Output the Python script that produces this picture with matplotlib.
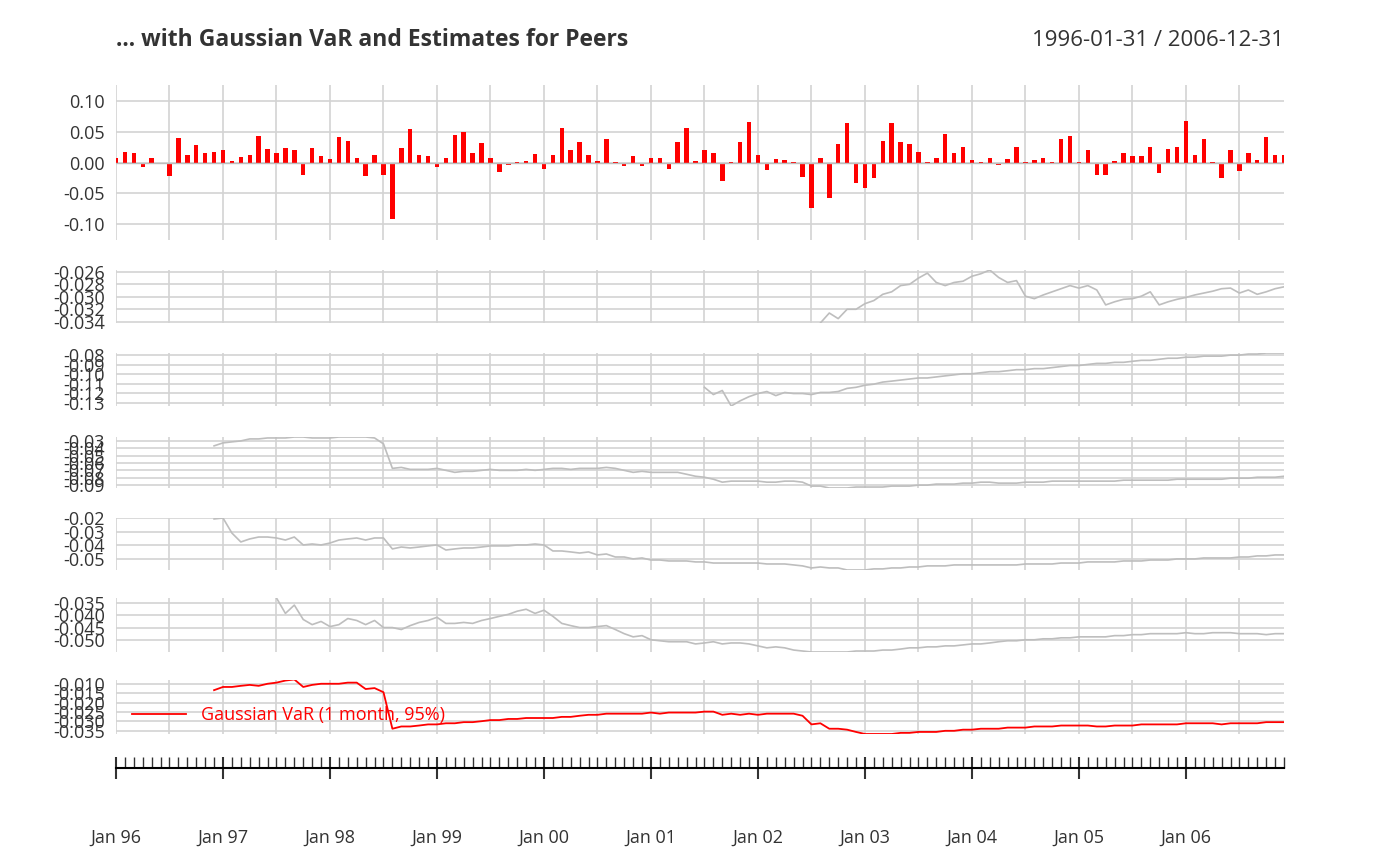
import matplotlib
matplotlib.use("Agg")
import matplotlib.pyplot as plt
import numpy as np

plt.rcParams['font.family'] = ['Open Sans', 'DejaVu Sans']

# monthly returns Jan 1996 .. Dec 2006, by year
returns = [
    0.007, 0.018, 0.015, -0.008, 0.007, -0.003, -0.022, 0.040, 0.013, 0.028, 0.015, 0.017,
    0.020, 0.002, 0.009, 0.012, 0.043, 0.022, 0.015, 0.023, 0.021, -0.020, 0.024, 0.011,
    0.005, 0.042, 0.036, 0.008, -0.022, 0.012, -0.020, -0.093, 0.024, 0.055, 0.012, 0.010,
    -0.008, 0.008, 0.045, 0.050, 0.016, 0.032, 0.008, -0.016, -0.004, 0.001, 0.003, 0.014,
    -0.010, 0.012, 0.057, 0.020, 0.033, 0.012, 0.003, 0.038, 0.001, -0.006, 0.010, -0.006,
    0.007, 0.007, -0.010, 0.034, 0.057, 0.002, 0.020, 0.016, -0.030, 0.001, 0.033, 0.067,
    0.013, -0.012, 0.005, 0.004, 0.001, -0.024, -0.075, 0.007, -0.058, 0.030, 0.065, -0.033,
    -0.042, -0.025, 0.035, 0.065, 0.033, 0.030, 0.017, 0.001, 0.008, 0.047, 0.016, 0.026,
    0.004, 0.001, 0.008, -0.004, 0.006, 0.025, 0.001, 0.004, 0.008, 0.001, 0.039, 0.043,
    0.001, 0.021, -0.020, -0.020, 0.003, 0.015, 0.010, 0.011, 0.025, -0.018, 0.022, 0.025,
    0.068, 0.013, 0.039, 0.001, -0.026, 0.021, -0.014, 0.015, 0.004, 0.042, 0.012, 0.012,
]

# peer VaR estimates, each ending Dec 2006
peer1 = [-0.0342, -0.0326, -0.0335, -0.0320, -0.0320, -0.0311, -0.0306, -0.0296, -0.0292, -0.0282,
         -0.0280, -0.0270, -0.0262, -0.0277, -0.0282, -0.0277, -0.0275, -0.0267, -0.0263, -0.0257,
         -0.0269, -0.0277, -0.0274, -0.0299, -0.0303, -0.0297, -0.0292, -0.0287, -0.0282, -0.0286,
         -0.0282, -0.0289, -0.0313, -0.0308, -0.0304, -0.0303, -0.0299, -0.0292, -0.0313, -0.0308,
         -0.0304, -0.0301, -0.0297, -0.0294, -0.0291, -0.0287, -0.0286, -0.0294, -0.0289, -0.0296,
         -0.0292, -0.0287, -0.0284]
peer2 = [-0.1138, -0.1214, -0.1171, -0.1334, -0.1280, -0.1236, -0.1203, -0.1182, -0.1225, -0.1192,
         -0.1203, -0.1203, -0.1214, -0.1192, -0.1192, -0.1182, -0.1149, -0.1138, -0.1116, -0.1105,
         -0.1083, -0.1073, -0.1062, -0.1051, -0.1040, -0.1040, -0.1029, -0.1018, -0.1007, -0.0996,
         -0.0996, -0.0985, -0.0974, -0.0974, -0.0964, -0.0953, -0.0953, -0.0942, -0.0942, -0.0931,
         -0.0920, -0.0909, -0.0909, -0.0898, -0.0887, -0.0887, -0.0876, -0.0876, -0.0865, -0.0855,
         -0.0855, -0.0844, -0.0833, -0.0833, -0.0822, -0.0822, -0.0811, -0.0811, -0.0811, -0.0800,
         -0.0800, -0.0789, -0.0789, -0.0778, -0.0778, -0.0778]
peer3 = [-0.0367, -0.0327, -0.0313, -0.0300, -0.0273, -0.0273, -0.0260, -0.0260, -0.0260, -0.0247,
         -0.0247, -0.0260, -0.0260, -0.0260, -0.0247, -0.0247, -0.0247, -0.0247, -0.0260, -0.0340,
         -0.0672, -0.0659, -0.0686, -0.0686, -0.0686, -0.0672, -0.0699, -0.0726, -0.0712, -0.0712,
         -0.0699, -0.0686, -0.0699, -0.0699, -0.0699, -0.0686, -0.0699, -0.0686, -0.0672, -0.0672,
         -0.0686, -0.0672, -0.0672, -0.0672, -0.0659, -0.0672, -0.0699, -0.0726, -0.0712, -0.0726,
         -0.0726, -0.0726, -0.0726, -0.0752, -0.0779, -0.0792, -0.0819, -0.0859, -0.0845, -0.0845,
         -0.0845, -0.0845, -0.0859, -0.0859, -0.0845, -0.0845, -0.0859, -0.0912, -0.0912, -0.0938,
         -0.0938, -0.0938, -0.0925, -0.0925, -0.0925, -0.0925, -0.0912, -0.0912, -0.0912, -0.0899,
         -0.0899, -0.0885, -0.0885, -0.0885, -0.0872, -0.0872, -0.0859, -0.0859, -0.0872, -0.0872,
         -0.0872, -0.0859, -0.0859, -0.0859, -0.0845, -0.0845, -0.0845, -0.0845, -0.0845, -0.0845,
         -0.0845, -0.0845, -0.0832, -0.0832, -0.0832, -0.0832, -0.0832, -0.0832, -0.0819, -0.0819,
         -0.0819, -0.0819, -0.0819, -0.0819, -0.0805, -0.0805, -0.0805, -0.0792, -0.0792, -0.0792,
         -0.0779]
peer4 = [-0.0207, -0.0200, -0.0310, -0.0375, -0.0353, -0.0339, -0.0339, -0.0346, -0.0361, -0.0339,
         -0.0397, -0.0390, -0.0397, -0.0383, -0.0361, -0.0353, -0.0346, -0.0361, -0.0346, -0.0346,
         -0.0426, -0.0412, -0.0419, -0.0412, -0.0404, -0.0397, -0.0434, -0.0426, -0.0419, -0.0419,
         -0.0412, -0.0404, -0.0404, -0.0404, -0.0397, -0.0397, -0.0390, -0.0397, -0.0441, -0.0441,
         -0.0448, -0.0456, -0.0448, -0.0470, -0.0463, -0.0485, -0.0485, -0.0499, -0.0492, -0.0507,
         -0.0507, -0.0514, -0.0514, -0.0514, -0.0521, -0.0521, -0.0529, -0.0529, -0.0529, -0.0529,
         -0.0529, -0.0529, -0.0536, -0.0536, -0.0536, -0.0543, -0.0550, -0.0565, -0.0558, -0.0565,
         -0.0565, -0.0580, -0.0580, -0.0580, -0.0572, -0.0572, -0.0565, -0.0565, -0.0558, -0.0558,
         -0.0550, -0.0550, -0.0550, -0.0543, -0.0543, -0.0543, -0.0543, -0.0543, -0.0543, -0.0543,
         -0.0543, -0.0536, -0.0536, -0.0536, -0.0536, -0.0529, -0.0529, -0.0529, -0.0521, -0.0521,
         -0.0521, -0.0521, -0.0514, -0.0514, -0.0514, -0.0507, -0.0507, -0.0507, -0.0499, -0.0499,
         -0.0499, -0.0492, -0.0492, -0.0492, -0.0492, -0.0485, -0.0485, -0.0477, -0.0477, -0.0470,
         -0.0470]
peer5 = [-0.0329, -0.0392, -0.0358, -0.0417, -0.0438, -0.0425, -0.0446, -0.0438, -0.0413, -0.0421,
         -0.0438, -0.0421, -0.0450, -0.0450, -0.0458, -0.0442, -0.0429, -0.0421, -0.0408, -0.0433,
         -0.0433, -0.0429, -0.0433, -0.0421, -0.0413, -0.0404, -0.0396, -0.0383, -0.0375, -0.0392,
         -0.0379, -0.0404, -0.0433, -0.0442, -0.0450, -0.0450, -0.0446, -0.0442, -0.0458, -0.0475,
         -0.0488, -0.0483, -0.0500, -0.0504, -0.0508, -0.0508, -0.0508, -0.0517, -0.0513, -0.0508,
         -0.0517, -0.0513, -0.0513, -0.0517, -0.0525, -0.0533, -0.0529, -0.0533, -0.0542, -0.0546,
         -0.0550, -0.0550, -0.0550, -0.0550, -0.0550, -0.0546, -0.0546, -0.0546, -0.0542, -0.0542,
         -0.0538, -0.0533, -0.0533, -0.0529, -0.0529, -0.0525, -0.0525, -0.0521, -0.0517, -0.0517,
         -0.0513, -0.0508, -0.0504, -0.0504, -0.0500, -0.0500, -0.0496, -0.0496, -0.0492, -0.0492,
         -0.0488, -0.0488, -0.0488, -0.0488, -0.0483, -0.0483, -0.0479, -0.0479, -0.0475, -0.0475,
         -0.0475, -0.0475, -0.0471, -0.0475, -0.0475, -0.0471, -0.0471, -0.0471, -0.0475, -0.0475,
         -0.0475, -0.0479, -0.0475, -0.0475]
gauss_var = [-0.0134, -0.0117, -0.0117, -0.0111, -0.0106, -0.0111, -0.0100, -0.0094, -0.0083, -0.0077,
             -0.0117, -0.0106, -0.0100, -0.0100, -0.0100, -0.0094, -0.0094, -0.0128, -0.0123, -0.0145,
             -0.0339, -0.0327, -0.0327, -0.0322, -0.0316, -0.0316, -0.0310, -0.0310, -0.0304, -0.0304,
             -0.0299, -0.0293, -0.0293, -0.0287, -0.0287, -0.0282, -0.0282, -0.0282, -0.0282, -0.0276,
             -0.0276, -0.0270, -0.0265, -0.0265, -0.0259, -0.0259, -0.0259, -0.0259, -0.0259, -0.0253,
             -0.0259, -0.0253, -0.0253, -0.0253, -0.0253, -0.0248, -0.0248, -0.0265, -0.0259, -0.0265,
             -0.0259, -0.0265, -0.0259, -0.0259, -0.0259, -0.0259, -0.0270, -0.0316, -0.0310, -0.0339,
             -0.0339, -0.0344, -0.0356, -0.0367, -0.0367, -0.0367, -0.0367, -0.0361, -0.0361, -0.0356,
             -0.0356, -0.0356, -0.0350, -0.0350, -0.0344, -0.0344, -0.0339, -0.0339, -0.0339, -0.0333,
             -0.0333, -0.0333, -0.0327, -0.0327, -0.0327, -0.0322, -0.0322, -0.0322, -0.0322, -0.0327,
             -0.0327, -0.0322, -0.0322, -0.0322, -0.0316, -0.0316, -0.0316, -0.0316, -0.0316, -0.0310,
             -0.0310, -0.0310, -0.0310, -0.0316, -0.0310, -0.0310, -0.0310, -0.0310, -0.0304, -0.0304,
             -0.0304]

ret_ticks = [0.10, 0.05, 0.00, -0.05, -0.10]
peer_ticks = [
    [-0.026, -0.028, -0.030, -0.032, -0.034],
    [-0.08, -0.09, -0.10, -0.11, -0.12, -0.13],
    [-0.03, -0.04, -0.05, -0.06, -0.07, -0.08, -0.09],
    [-0.02, -0.03, -0.04, -0.05],
    [-0.035, -0.040, -0.045, -0.050],
]
var_ticks = [-0.010, -0.015, -0.020, -0.025, -0.030, -0.035]
year_labels = ['Jan 96', 'Jan 97', 'Jan 98', 'Jan 99', 'Jan 00', 'Jan 01',
               'Jan 02', 'Jan 03', 'Jan 04', 'Jan 05', 'Jan 06']

n = len(returns)
months = np.arange(n)
W, H = 1400, 866
grid_c = '#d3d3d3'
txt_c = '#333333'

fig = plt.figure(figsize=(14, 8.66), dpi=100)


def make_ax(top, bottom):
    ax = fig.add_axes([116 / W, 1 - bottom / H, (1284 - 116) / W, (bottom - top) / H])
    for s in ax.spines.values():
        s.set_visible(False)
    ax.set_xlim(0, n - 1)
    ax.set_xticks(np.arange(0, n, 6))
    ax.tick_params(axis='x', length=0, labelbottom=False)
    ax.tick_params(axis='y', length=0, labelsize=13, colors=txt_c, pad=8)
    ax.grid(True, color=grid_c, linewidth=1.2)
    ax.set_axisbelow(True)
    return ax


def fmt(t, d):
    return ('%.' + str(d) + 'f') % t


# returns panel
ax = make_ax(85, 240)
ax.bar(months, returns, width=0.5, color='red')
ax.axhline(0, color='#bebebe', linewidth=1)
ax.set_ylim(-0.127, 0.127)
ax.set_yticks(ret_ticks)
ax.set_yticklabels([fmt(t, 2) for t in ret_ticks])

panels = [(270, 323), (353, 406), (437, 488), (518, 570), (598, 652)]
peers = [peer1, peer2, peer3, peer4, peer5]
for (top, bottom), vals, ticks in zip(panels, peers, peer_ticks):
    ax = make_ax(top, bottom)
    x = months[n - len(vals):]
    ax.plot(x, vals, color='#bebebe', linewidth=1.2)
    lo = min(min(vals), min(ticks))
    hi = max(max(vals), max(ticks))
    ax.set_ylim(lo, hi)
    dec = 3 if ticks[0] * 1000 % 10 else 2
    ax.set_yticks(ticks)
    ax.set_yticklabels([fmt(t, dec) for t in ticks])

ax = make_ax(680, 734)
x = months[n - len(gauss_var):]
ax.plot(x, gauss_var, color='red', linewidth=1.3, label='Gaussian VaR (1 month, 95%)')
ax.set_ylim(min(gauss_var), -0.008)
ax.set_yticks(var_ticks)
ax.set_yticklabels([fmt(t, 3) for t in var_ticks])
ax.legend(loc='lower left', frameon=False, fontsize=13, labelcolor='red',
          handlelength=3, bbox_to_anchor=(0.0, -0.12))

# time axis
axt = fig.add_axes([116 / W, 1 - 768 / H, (1284 - 116) / W, 10 / H])
for k in ['top', 'left', 'right']:
    axt.spines[k].set_visible(False)
axt.spines['bottom'].set_linewidth(1.5)
axt.set_xlim(0, n - 1)
axt.set_yticks([])
axt.set_xticks(np.arange(0, n, 12))
axt.set_xticklabels(year_labels)
axt.set_xticks(months, minor=True)
axt.tick_params(axis='x', which='major', direction='inout', length=16, width=1.5,
                labelsize=13, colors=txt_c, pad=36)
axt.tick_params(axis='x', which='minor', direction='in', length=8, width=1)
axt.tick_params(axis='x', which='both', color='#333333')

fig.text(116 / W, 1 - 40 / H, '... with Gaussian VaR and Estimates for Peers',
         fontsize=16.5, fontweight='bold', color=txt_c, va='center')
fig.text(1284 / W, 1 - 40 / H, '1996-01-31 / 2006-12-31',
         fontsize=16, color=txt_c, va='center', ha='right')

fig.savefig('out.png', dpi=100)
